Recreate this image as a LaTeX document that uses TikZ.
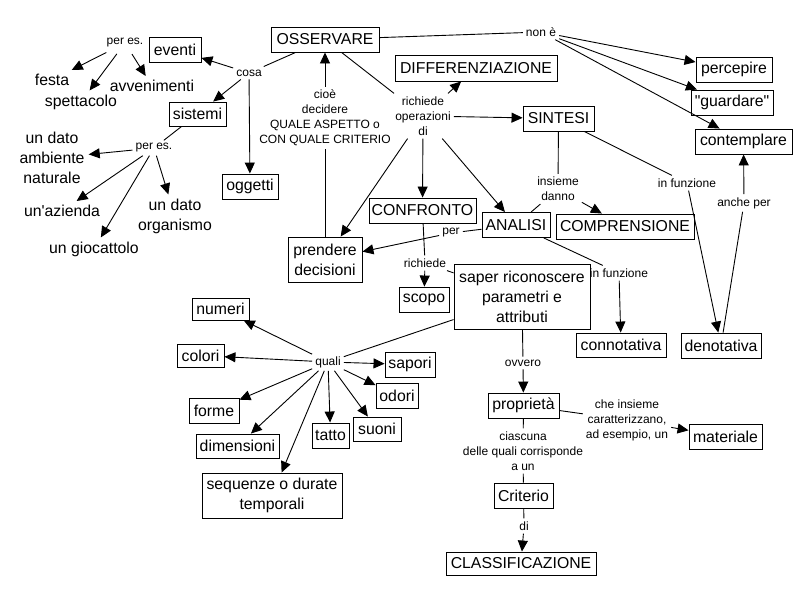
\documentclass[tikz,border=0pt]{standalone}
\usepackage{fontspec}
\setmainfont{Liberation Sans}
\usetikzlibrary{arrows.meta}
\tikzset{
 box/.style={draw, line width=0.9pt, inner sep=0pt, align=center, font=\fontsize{15.8}{20}\selectfont},
 big/.style={inner sep=4pt, align=center, font=\fontsize{15.8}{20}\selectfont},
 lab/.style={inner sep=3pt, align=center, font=\fontsize{12}{15}\selectfont},
 con/.style={line width=0.9pt},
 arr/.style={line width=0.9pt, -{Triangle[length=11pt,width=10pt]}},
}
\newcommand{\mybox}[6]{\node[box, minimum width=#4pt, minimum height=#5pt] (#1) at (#2,#3) {#6};}
\begin{document}
\begin{tikzpicture}[x=1pt,y=-1pt]
\fill[white] (0,0) rectangle (805,594);
\useasboundingbox (0,0) rectangle (805,594);
% boxes
\mybox{oss}{325}{39.5}{108}{25}{OSSERVARE}
\mybox{ev}{175}{49.5}{52}{25}{eventi}
\mybox{sis}{197.5}{114}{57}{24}{sistemi}
\mybox{ogg}{250}{186.5}{56}{25}{oggetti}
\mybox{dif}{476}{68}{162}{26}{DIFFERENZIAZIONE}
\mybox{sin}{558.5}{118.5}{71}{25}{SINTESI}
\mybox{perc}{734}{69.5}{76}{25}{percepire}
\mybox{guar}{732}{102.5}{82}{25}{\textquotedbl guardare\textquotedbl}
\mybox{cont}{743.5}{141.5}{97}{25}{contemplare}
\mybox{conf}{422.5}{210.5}{107}{25}{CONFRONTO}
\mybox{ana}{516}{225}{68}{25}{ANALISI}
\mybox{comp}{625}{226.5}{138}{25}{COMPRENSIONE}
\mybox{pre}{325}{259.5}{74}{45}{prendere\\decisioni}
\mybox{sco}{424}{299.5}{50}{25}{scopo}
\mybox{sap}{522}{296.5}{136}{65}{saper riconoscere\\parametri e\\attributi}
\mybox{conn}{621}{345}{90}{24}{connotativa}
\mybox{deno}{721}{345.5}{80}{25}{denotativa}
\mybox{num}{220.5}{309}{57}{22}{numeri}
\mybox{col}{200.5}{355.5}{47}{23}{colori}
\mybox{sapo}{410}{364.5}{50}{25}{sapori}
\mybox{odo}{397}{395.5}{42}{25}{odori}
\mybox{suo}{377}{429}{48}{24}{suoni}
\mybox{tat}{330.5}{435.5}{37}{25}{tatto}
\mybox{dime}{237.5}{446}{83}{24}{dimensioni}
\mybox{seq}{272}{495.5}{140}{45}{sequenze o durate\\temporali}
\mybox{form}{214}{410.5}{50}{25}{forme}
\mybox{prop}{523.5}{405.5}{71}{25}{proprietà}
\mybox{mat}{725.5}{436.5}{73}{25}{materiale}
\mybox{crit}{523.5}{495.5}{59}{25}{Criterio}
\mybox{cla}{521}{563.5}{150}{23}{CLASSIFICAZIONE}
% plain texts
\node[big] (festa) at (52,80) {festa};
\node[big] (spet) at (81,102) {spettacolo};
\node[big] (avv) at (152,86) {avvenimenti};
\node[big] (dato1) at (52,158) {un dato\\ambiente\\naturale};
\node[big] (azi) at (62,211) {un\textquotesingle azienda};
\node[big] (gioc) at (94,249) {un giocattolo};
\node[big] (dato2) at (175,216) {un dato\\organismo};
% labels
\node[lab] (peres1) at (125,43) {per es.};
\node[lab] (cosa) at (249,73) {cosa};
\node[lab] (peres2) at (154,148) {per es.};
\node[lab] (cioe) at (325,118) {cioè\\decidere\\QUALE ASPETTO o\\CON QUALE CRITERIO};
\node[lab] (none) at (541,32) {non è};
\node[lab] (rich1) at (423,116) {richiede\\operazioni\\di};
\node[lab] (ins) at (558,189) {insieme\\danno};
\node[lab] (inf1) at (687,183) {in funzione};
\node[lab] (anche) at (744,203) {anche per};
\node[lab] (per) at (451,233) {per};
\node[lab] (rich2) at (425,263) {richiede};
\node[lab] (inf2) at (619,273) {in funzione};
\node[lab] (quali) at (328,362) {quali};
\node[lab] (ovv) at (523,363) {ovvero};
\node[lab] (che) at (627,420) {che insieme\\caratterizzano,\\ad esempio, un};
\node[lab] (cia) at (523,451) {ciascuna\\delle quali corrisponde\\a un};
\node[lab] (di) at (524,526) {di};
% connectors
\draw[con] (oss) -- (cosa);
\draw[arr] (cosa) -- (ev);
\draw[arr] (cosa) -- (sis);
\draw[arr] (cosa) -- (ogg);
\draw[arr, shorten <=4pt] (peres1) -- (festa);
\draw[arr, shorten <=4pt] (peres1) -- (spet);
\draw[arr, shorten <=4pt] (peres1) -- (avv);
\draw[con] (sis) -- (peres2);
\draw[arr] (peres2) -- (dato1);
\draw[arr] (peres2) -- (azi);
\draw[arr] (peres2) -- (gioc);
\draw[arr] (peres2) -- (dato2);
\draw[con] (pre) -- (cioe);
\draw[arr] (cioe) -- (oss);
\draw[con] (oss) -- (none);
\draw[arr] (none) -- (perc);
\draw[arr] (none) -- (guar);
\draw[arr] (none) -- (cont);
\draw[con] (oss) -- (rich1);
\draw[arr] (rich1) -- (dif);
\draw[arr] (rich1) -- (sin);
\draw[arr] (rich1) -- (conf);
\draw[arr] (rich1) -- (ana);
\draw[arr] (rich1) -- (pre);
\draw[con] (sin) -- (ins);
\draw[con] (ana) -- (ins);
\draw[arr] (ins) -- (comp);
\draw[con] (sin) -- (inf1);
\draw[arr] (inf1) -- (deno);
\draw[con] (deno) -- (anche);
\draw[arr] (anche) -- (cont);
\draw[con] (ana) -- (per);
\draw[arr] (per) -- (pre);
\draw[con] (ana) -- (inf2);
\draw[arr] (inf2) -- (conn);
\draw[con] (conf) -- (rich2);
\draw[arr] (rich2) -- (sco);
\draw[con] (rich2) -- (sap);
\draw[con] (sap) -- (quali);
\draw[con] (sap) -- (ovv);
\draw[arr] (ovv) -- (prop);
\draw[arr] (quali) -- (num);
\draw[arr] (quali) -- (col);
\draw[arr] (quali) -- (sapo);
\draw[arr] (quali) -- (odo);
\draw[arr] (quali) -- (form);
\draw[arr] (quali) -- (dime);
\draw[arr] (quali) -- (seq);
\draw[arr] (quali) -- (tat);
\draw[arr] (quali) -- (suo);
\draw[con] (prop) -- (che);
\draw[arr] (che) -- (mat);
\draw[con] (prop) -- (cia);
\draw[con] (cia) -- (crit);
\draw[con] (crit) -- (di);
\draw[arr] (di) -- (cla);
\end{tikzpicture}
\end{document}
